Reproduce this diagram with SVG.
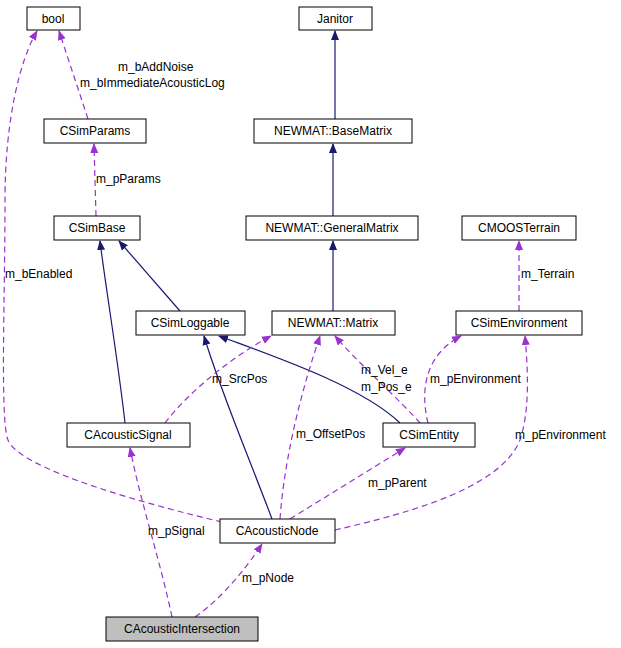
<svg xmlns="http://www.w3.org/2000/svg" width="621" height="648" viewBox="0 0 621 648">
<defs>
<style>
.n rect{fill:#fff;stroke:#000;stroke-width:1}
text{font-family:"Liberation Sans",Arial,sans-serif;font-size:12px;fill:#000}
.n text{text-anchor:middle}
.i{fill:none;stroke:#191970;stroke-width:1.2}
.u{fill:none;stroke:#9a32cd;stroke-width:1.2;stroke-dasharray:6,4}
</style>
<marker id="ai" markerWidth="10" markerHeight="10" refX="9" refY="5" orient="auto" markerUnits="userSpaceOnUse"><path d="M0,1L10,5L0,9z" fill="#191970"/></marker>
<marker id="au" markerWidth="10" markerHeight="10" refX="9" refY="5" orient="auto" markerUnits="userSpaceOnUse"><path d="M0,1L10,5L0,9z" fill="#9a32cd"/></marker>
</defs>
<rect width="621" height="648" fill="#fff"/>
<g id="connectors">
<path class="i" marker-end="url(#ai)" d="M335,119V31"/>
<path class="i" marker-end="url(#ai)" d="M333,216V144"/>
<path class="i" marker-end="url(#ai)" d="M333,311V241"/>
<path class="i" marker-end="url(#ai)" d="M180,311L119,241"/>
<path class="i" marker-end="url(#ai)" d="M125,423C118,360 106,290 100,241"/>
<path class="i" marker-end="url(#ai)" d="M400,423C360,385 270,355 219,336"/>
<path class="i" marker-end="url(#ai)" d="M272,519C250,460 220,390 204,336"/>
<path class="u" marker-end="url(#au)" d="M88,119L59,31"/>
<path class="u" marker-end="url(#au)" d="M96,216L94,144"/>
<path class="u" marker-end="url(#au)" d="M222,522C150,505 20,470 8,440C0,420 5,300 5,200C5,120 20,60 37,31"/>
<path class="u" marker-end="url(#au)" d="M519,311V241"/>
<path class="u" marker-end="url(#au)" d="M165,423C190,390 235,355 271,336"/>
<path class="u" marker-end="url(#au)" d="M280,519C285,450 305,380 320,336"/>
<path class="u" marker-end="url(#au)" d="M420,423C400,400 360,365 335,336"/>
<path class="u" marker-end="url(#au)" d="M428,423C420,390 425,355 461,336"/>
<path class="u" marker-end="url(#au)" d="M290,519L405,448"/>
<path class="u" marker-end="url(#au)" d="M335,530C400,515 500,490 520,440C530,410 528,370 525,336"/>
<path class="u" marker-end="url(#au)" d="M172,617C160,560 140,500 130,448"/>
<path class="u" marker-end="url(#au)" d="M195,617C220,600 245,570 262,544"/>
</g>
<g id="labels">
<text x="118" y="71">m_bAddNoise</text>
<text x="80" y="87">m_bImmediateAcousticLog</text>
<text x="96" y="183">m_pParams</text>
<text x="5" y="278">m_bEnabled</text>
<text x="521" y="278">m_Terrain</text>
<text x="212" y="383">m_SrcPos</text>
<text x="361" y="374">m_Vel_e</text>
<text x="361" y="391">m_Pos_e</text>
<text x="430" y="383">m_pEnvironment</text>
<text x="296" y="438">m_OffsetPos</text>
<text x="515" y="439">m_pEnvironment</text>
<text x="368" y="487">m_pParent</text>
<text x="148" y="535">m_pSignal</text>
<text x="242" y="582">m_pNode</text>
</g>
<g id="bool" class="n"><rect x="27" y="7" width="53" height="23"/><text x="53" y="23">bool</text></g>
<g id="Janitor" class="n"><rect x="299" y="7" width="73" height="23"/><text x="335" y="23">Janitor</text></g>
<g id="CSimParams" class="n"><rect x="44" y="119" width="102" height="24"/><text x="95" y="135">CSimParams</text></g>
<g id="BaseMatrix" class="n"><rect x="254" y="119" width="158" height="24"/><text x="333" y="135">NEWMAT::BaseMatrix</text></g>
<g id="CSimBase" class="n"><rect x="54" y="216" width="86" height="24"/><text x="97" y="232">CSimBase</text></g>
<g id="GeneralMatrix" class="n"><rect x="246" y="216" width="172" height="24"/><text x="332" y="232">NEWMAT::GeneralMatrix</text></g>
<g id="CMOOSTerrain" class="n"><rect x="462" y="216" width="114" height="24"/><text x="519" y="232">CMOOSTerrain</text></g>
<g id="CSimLoggable" class="n"><rect x="136" y="311" width="109" height="24"/><text x="190" y="327">CSimLoggable</text></g>
<g id="Matrix" class="n"><rect x="272" y="311" width="123" height="24"/><text x="333" y="327">NEWMAT::Matrix</text></g>
<g id="CSimEnvironment" class="n"><rect x="456" y="311" width="126" height="24"/><text x="519" y="327">CSimEnvironment</text></g>
<g id="CAcousticSignal" class="n"><rect x="67" y="423" width="123" height="24"/><text x="128" y="439">CAcousticSignal</text></g>
<g id="CSimEntity" class="n"><rect x="383" y="423" width="92" height="24"/><text x="429" y="439">CSimEntity</text></g>
<g id="CAcousticNode" class="n"><rect x="220" y="519" width="115" height="24"/><text x="277" y="535">CAcousticNode</text></g>
<g id="CAcousticIntersection" class="n"><rect x="106" y="617" width="152" height="24" style="fill:#bfbfbf"/><text x="182" y="633">CAcousticIntersection</text></g>
</svg>
